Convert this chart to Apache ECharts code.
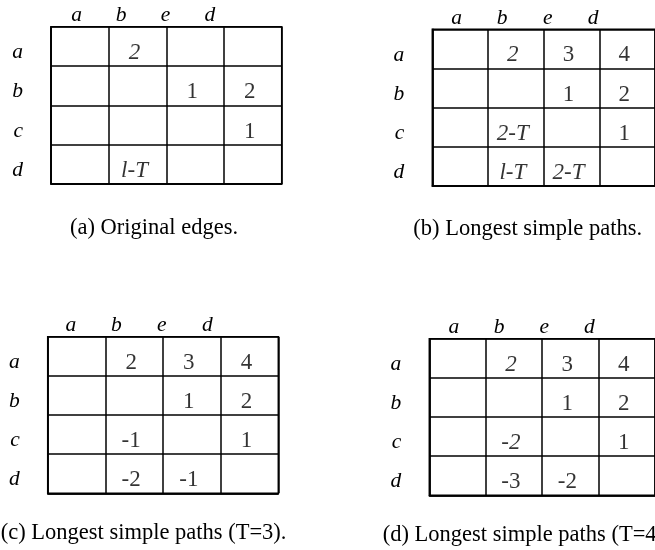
<!DOCTYPE html>
<html>
<head>
<meta charset="utf-8">
<script src="https://cdn.jsdelivr.net/npm/echarts@6/dist/echarts.min.js"></script>
<style>
  html, body { margin: 0; padding: 0; background: #fff; }
  #chart { width: 655px; height: 550px; }
</style>
</head>
<body>
<div id="chart"></div>
<script>
// ---- data ----
const rowLabels = ['a', 'b', 'c', 'd'];
const colLabels = ['a', 'b', 'e', 'd'];
const cellsA = [['', '2', '', ''], ['', '', '1', '2'], ['', '', '', '1'], ['', 'l-T', '', '']];
const cellsB = [['', '2', '3', '4'], ['', '', '1', '2'], ['', '2-T', '', '1'], ['', 'l-T', '2-T', '']];
const cellsC = [['', '2', '3', '4'], ['', '', '1', '2'], ['', '-1', '', '1'], ['', '-2', '-1', '']];
const cellsD = [['', '2', '3', '4'], ['', '', '1', '2'], ['', '-2', '', '1'], ['', '-3', '-2', '']];
const captions = [
  '(a) Original edges.',
  '(b) Longest simple paths.',
  '(c) Longest simple paths (T=3).',
  '(d) Longest simple paths (T=4).'
];

// ---- styles (which cells are set in italic) ----
const italicA = ['0,1', '3,1'];
const italicB = ['0,1', '2,1', '3,1', '3,2'];
const italicC = [];
const italicD = ['0,1', '2,1'];

// ---- layout ----
const FONT = "'Liberation Serif', 'Times New Roman', serif";
const FS_CELL = 23, FS_AXIS = 21.5, FS_CAP = 22.5;
const tables = [
  { cells: cellsA, italic: italicA, left: 51,    top: 26.7,  width: 230.7, height: 157.3, hLeft: 54.5,  hWidth: 177.7, capLeft: 70,    capTop: 217 },
  { cells: cellsB, italic: italicB, left: 432.3, top: 29.3,  width: 229.3, height: 156.7, hLeft: 433.9, hWidth: 182,   capLeft: 413.3, capTop: 218 },
  { cells: cellsC, italic: italicC, left: 47.7,  top: 336.7, width: 230.6, height: 156.6, hLeft: 48,    hWidth: 182,   capLeft: 0.7,   capTop: 522 },
  { cells: cellsD, italic: italicD, left: 429.3, top: 338.7, width: 229.3, height: 156.6, hLeft: 431.4, hWidth: 180.4, capLeft: 382.7, capTop: 524 }
];

const grid = [], xAxis = [], yAxis = [], series = [], title = [];
const lineStyle = { color: '#000', width: 1.5 };

tables.forEach((t, i) => {
  // table grid
  grid.push({ left: t.left, top: t.top, width: t.width, height: t.height,
    show: true, borderColor: '#000', borderWidth: 1.5, backgroundColor: 'transparent' });
  xAxis.push({ gridIndex: i, type: 'category', data: colLabels, boundaryGap: true,
    axisLabel: { show: false }, axisTick: { show: false },
    axisLine: { show: true, lineStyle }, splitLine: { show: true, interval: 0, lineStyle } });
  yAxis.push({ gridIndex: i, type: 'category', data: rowLabels, inverse: true, boundaryGap: true,
    axisTick: { show: false }, axisLine: { show: true, lineStyle },
    splitLine: { show: true, interval: 0, lineStyle },
    axisLabel: { interval: 0, margin: 28, color: '#000', fontFamily: FONT, fontSize: FS_AXIS,
      fontStyle: 'italic', verticalAlign: 'top', lineHeight: 12 } });

  const data = [];
  t.cells.forEach((row, r) => {
    row.forEach((txt, c) => {
      if (txt !== '') {
        const it = t.italic.indexOf(r + ',' + c) >= 0;
        data.push({ value: [c, r, txt], label: { fontStyle: it ? 'italic' : 'normal' } });
      }
    });
  });
  series.push({
    type: 'scatter', xAxisIndex: i, yAxisIndex: i, symbolSize: 1,
    itemStyle: { color: 'rgba(0,0,0,0)' },
    label: { show: true, position: 'inside', offset: [-3, 6.5], color: '#000',
      fontFamily: FONT, fontSize: FS_CELL, formatter: p => p.value[2] },
    data
  });

  title.push({ text: captions[i], left: t.capLeft, top: t.capTop, padding: 0,
    textStyle: { color: '#000', fontFamily: FONT, fontSize: FS_CAP, fontWeight: 'normal' } });
});

// header grids (column letters)
tables.forEach((t, i) => {
  const gi = tables.length + i;
  grid.push({ left: t.hLeft, top: t.top, width: t.hWidth, height: 10 });
  xAxis.push({ gridIndex: gi, type: 'category', data: colLabels, position: 'top',
    axisLine: { show: false }, axisTick: { show: false }, splitLine: { show: false },
    axisLabel: { interval: 0, margin: 0, color: '#000', fontFamily: FONT, fontSize: FS_AXIS, fontStyle: 'italic' } });
  yAxis.push({ gridIndex: gi, type: 'value', show: false });
});

const chart = echarts.init(document.getElementById('chart'), null, { renderer: 'canvas' });
chart.setOption({ animation: false, backgroundColor: '#fff', title, grid, xAxis, yAxis, series });
</script>
</body>
</html>
